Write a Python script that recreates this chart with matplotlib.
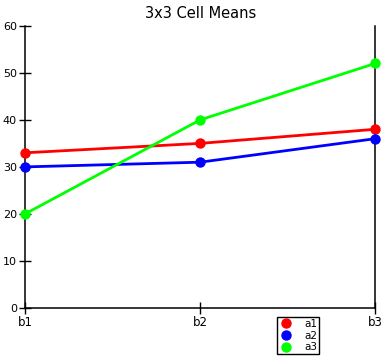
import matplotlib.pyplot as plt

# 3x3 cell means
levels_b = ['b1', 'b2', 'b3']
a1 = [33, 35, 38]
a2 = [30, 31, 36]
a3 = [20, 40, 52]

series = [('a1', a1, '#ff0000'), ('a2', a2, '#0000ff'), ('a3', a3, '#00ff00')]

fig = plt.figure(figsize=(3.86, 3.64), dpi=100)
ax = fig.add_axes((0.065, 0.154, 0.907, 0.775))

x = range(len(levels_b))
for name, vals, col in series:
    ax.plot(x, vals, color=col, lw=2.0, marker='o', ms=6.5, label=name, clip_on=False, zorder=3)

ax.set_xlim(0, 2)
ax.set_ylim(0, 60)
ax.set_xticks(list(x))
ax.set_xticklabels(levels_b, fontsize=8.5)
ax.set_yticks(range(0, 61, 10))
ax.tick_params(axis='y', labelsize=8, direction='inout', length=8, width=1, pad=2, right=False)
ax.tick_params(axis='x', direction='inout', length=8, width=1, pad=2, top=False)
ax.spines['top'].set_visible(False)
for s in ['left', 'right', 'bottom']:
    ax.spines[s].set_linewidth(1.1)

ax.set_title('3x3 Cell Means', fontsize=10.5, pad=6)

# legend box sits below the axes, between b2 and b3
leg = ax.legend(loc='upper left', bbox_to_anchor=(277 / 386, 1 - 317 / 364), bbox_transform=fig.transFigure,
                borderaxespad=0, fontsize=7.5, frameon=True, fancybox=False, edgecolor='black', framealpha=1,
                handlelength=1.4, handletextpad=1.0, borderpad=0.2, labelspacing=0.15)
for h in leg.legend_handles:
    h.set_linestyle('None')
leg.get_frame().set_linewidth(1)

fig.savefig('out.png', dpi=100)
